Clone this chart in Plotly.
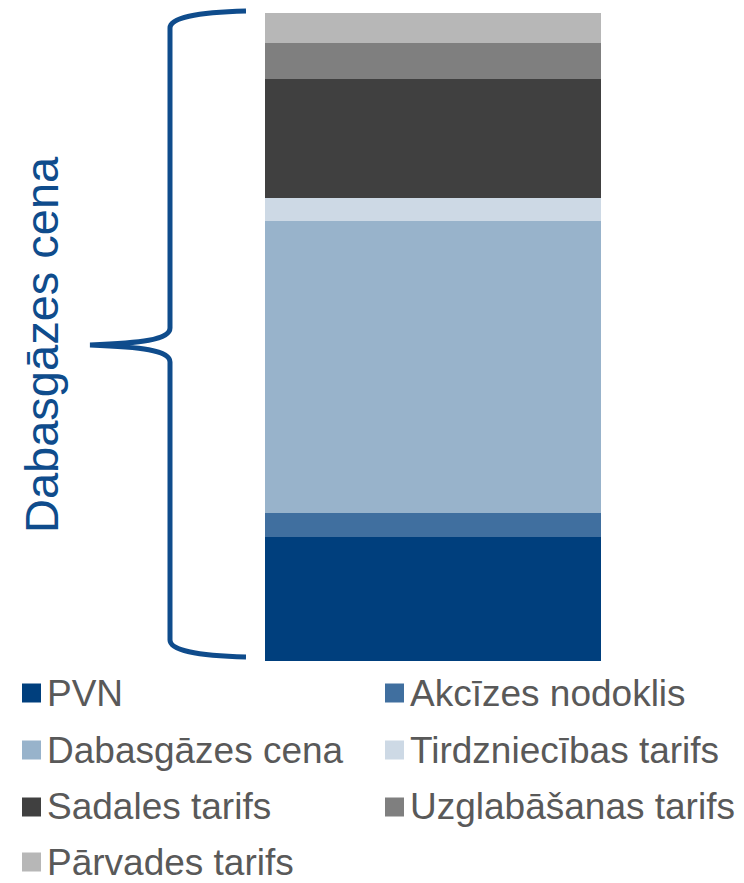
import plotly.graph_objects as go

# Data (percent share of total gas price, bottom to top)
categories = ["Cena"]
series_names = ["PVN", "Akcīzes nodoklis", "Dabasgāzes cena", "Tirdzniecības tarifs",
                "Sadales tarifs", "Uzglabāšanas tarifs", "Pārvades tarifs"]
series_values = [19.1, 3.7, 45.1, 3.5, 18.4, 5.6, 4.6]
series_colors = ["#003f7d", "#406f9f", "#98b3cb", "#cdd9e5", "#404040", "#7f7f7f", "#b7b7b7"]
brace_label = "Dabasgāzes cena"

OFF = 8  # page body margin
W, H = 744 - OFF, 883 - OFF
L, R, T, B = 265 - OFF, 601 - OFF, 13 - OFF, 661 - OFF  # plot area in figure pixels

fig = go.Figure()
for name, val, col in zip(series_names, series_values, series_colors):
    fig.add_trace(go.Bar(x=categories, y=[val], name=name, marker_color=col,
                         marker_line_width=0, showlegend=False))

def px(x, y):
    # x, y given in page pixels
    x -= OFF
    y -= OFF
    return (x - L) / (R - L), (B - y) / (B - T)

def pt(x, y):
    a, b = px(x, y)
    return f"{a:.5f},{b:.5f}"

brace = (f"M {pt(246,11)} Q {pt(170,13)} {pt(170,28)} L {pt(170,328)} "
         f"C {pt(170,340)} {pt(140,343)} {pt(90,345)} "
         f"C {pt(140,347)} {pt(170,350)} {pt(170,362)} L {pt(170,640)} "
         f"Q {pt(170,655)} {pt(246,657)}")

shapes = [dict(type="path", path=brace, xref="paper", yref="paper",
               line=dict(color="#0f4c8c", width=5))]
annotations = [dict(text=brace_label, textangle=-90, x=px(41, 345)[0], y=px(41, 345)[1],
                    xref="paper", yref="paper", showarrow=False,
                    font=dict(family="Liberation Sans, Arial", size=47, color="#0f4c8c"),
                    xanchor="center", yanchor="middle")]

# Legend (two columns, row-major)
col_x = [22, 385]
row_y = [693, 750, 807, 862]
for i, (name, col) in enumerate(zip(series_names, series_colors)):
    cx = col_x[i % 2]
    cy = row_y[i // 2]
    x0, y0 = px(cx, cy - 9.5)
    x1, y1 = px(cx + 19, cy + 9.5)
    shapes.append(dict(type="rect", xref="paper", yref="paper", x0=x0, x1=x1, y0=y1, y1=y0,
                       fillcolor=col, line_width=0))
    tx, ty = px(cx + 23, cy)
    annotations.append(dict(text=name, x=tx, y=ty, xref="paper", yref="paper",
                            showarrow=False, xanchor="left", yanchor="middle",
                            font=dict(family="Liberation Sans, Arial", size=37, color="#595959")))

fig.update_layout(
    width=W, height=H,
    margin=dict(l=L, r=W - R, t=T, b=H - B, pad=0),
    barmode="stack", bargap=0,
    plot_bgcolor="white", paper_bgcolor="white",
    xaxis=dict(visible=False),
    yaxis=dict(visible=False, range=[0, 100]),
    shapes=shapes, annotations=annotations,
)

fig.write_html("out.html")
